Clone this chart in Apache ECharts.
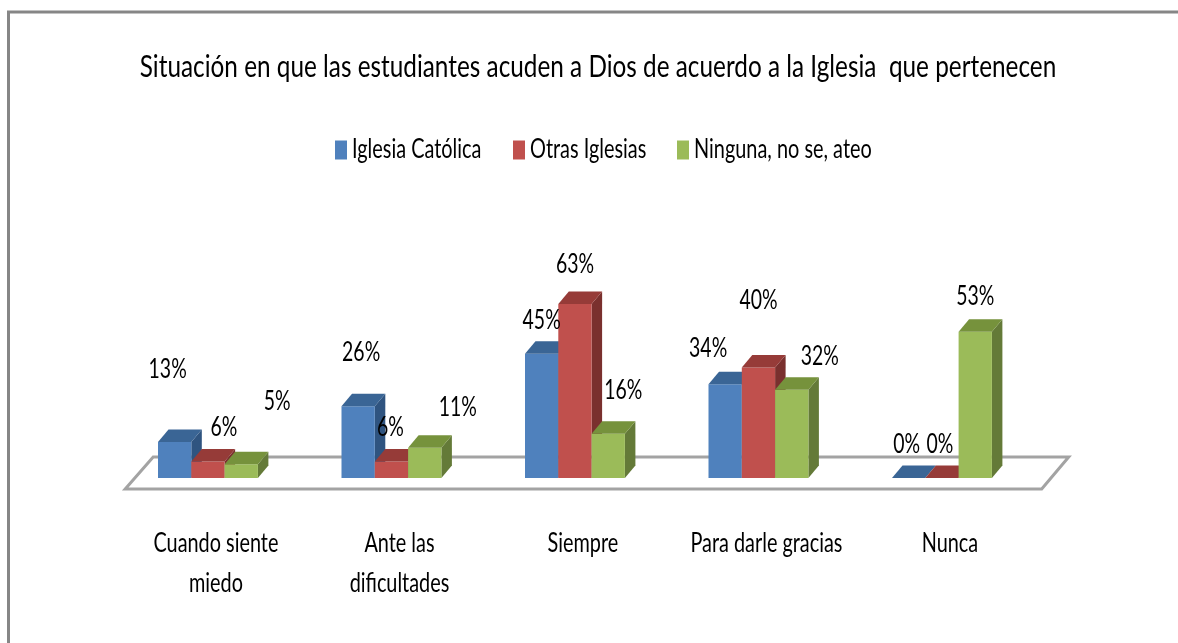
<!DOCTYPE html>
<html><head><meta charset="utf-8">
<style>html,body{margin:0;padding:0;background:#fff}#c{width:1178px;height:643px}</style>
<script src="https://cdn.jsdelivr.net/npm/echarts@6/dist/echarts.min.js"></script>
</head><body><div id="c"></div>
<script>
const titleText = 'Situación en que las estudiantes acuden a Dios de acuerdo a la Iglesia  que pertenecen';
const categories = ['Cuando siente\nmiedo', 'Ante las\ndificultades', 'Siempre', 'Para darle gracias', 'Nunca'];
const seriesNames = ['Iglesia Católica', 'Otras Iglesias', 'Ninguna, no se, ateo'];
const catolica = [13, 26, 45, 34, 0];
const otras = [6, 6, 63, 40, 0];
const ninguna = [5, 11, 16, 32, 53];

const FONT = 'Lato,"Liberation Sans",sans-serif';
const faces = [
  {front:'#4F81BD', top:'#3A6595', side:'#2F5480'},
  {front:'#C0504D', top:'#963B38', side:'#7A302E'},
  {front:'#9BBB59', top:'#76923C', side:'#647A38'}
];
const labelOffsets = [
  [[-7,-73],[3,-54],[0,-34],[-17,-36],[-2,-34]],
  [[16,-34],[-1,-34],[0,-40],[0,-67],[-2,-34]],
  [[36,-63],[33,-40],[15,-44],[28,-33],[0,-35]]
];
const DX = 10.5, DY = 12.5, BARW = 33.3;
const SQUEEZE = {title:0.811, legend:0.765, axis:0.735, value:0.72};

function barRenderer(si){
  return function(params, api){
    const c = api.value(0), v = api.value(1);
    const base = api.coord([c, 0]), top = api.coord([c, v]);
    const x0 = base[0] + (si - 1.5) * BARW, x1 = x0 + BARW, yb = base[1], yt = top[1];
    const f = faces[si];
    const kids = [];
    if (v > 0) {
      kids.push({type:'polygon', shape:{points:[[x1,yb],[x1+DX,yb-DY],[x1+DX,yt-DY],[x1,yt]]}, style:{fill:f.side}});
      kids.push({type:'rect', shape:{x:x0,y:yt,width:BARW,height:yb-yt}, style:{fill:f.front}});
    }
    kids.push({type:'polygon', shape:{points:[[x0,yt],[x0+DX,yt-DY],[x1+DX,yt-DY],[x1,yt]]}, style:{fill:f.top}});
    const o = labelOffsets[si][c];
    kids.push({type:'text', z2:100, x: x0 + BARW/2 + o[0], y: yt + o[1], scaleX:SQUEEZE.value, style:{
      text: v + '%', x:0, y:0, align:'center', verticalAlign:'middle', fill:'#000', font:'27px ' + FONT
    }});
    return {type:'group', children:kids};
  };
}
function floorRenderer(params, api){
  const rect = params.coordSys;
  const y = api.coord([0,0])[1], l = rect.x, r = rect.x + rect.width;
  return {type:'polygon', shape:{points:[[l+9,y+11],[l+37,y-21],[r+35,y-21],[r+8,y+11]]},
    style:{fill:'#fff', stroke:'#a3a3a3', lineWidth:3}};
}
const values = [catolica, otras, ninguna];
const legendLeft = [330, 508, 672];
const option = {
  backgroundColor:'#fff',
  animation:false,
  title:{text:titleText, left:'center', top:47, textStyle:{fontFamily:FONT, fontSize:30, fontWeight:'normal', color:'#000'}},
  legend:seriesNames.map((n,i)=>({data:[n], left:legendLeft[i], top:132, icon:'rect', itemWidth:12, itemHeight:19,
    textStyle:{fontFamily:FONT, fontSize:26, color:'#000'}})),
  grid:{left:116.2, width:917.5, top:284.8, height:193.2},
  xAxis:{type:'category', data:categories, axisLine:{show:false}, axisTick:{show:false},
    axisLabel:{interval:0, margin:45, lineHeight:40, fontFamily:FONT, fontSize:27, color:'#000'}},
  yAxis:{type:'value', min:0, max:70, show:false},
  series:[
    {type:'custom', name:'piso', z:1, silent:true, data:[[0,0]], encode:{x:0,y:1}, renderItem:floorRenderer},
    ...seriesNames.map((n,si)=>({type:'custom', name:n, z:2, itemStyle:{color:faces[si].front},
      encode:{x:0,y:1}, data:values[si].map((v,i)=>[i,v]), renderItem:barRenderer(si)}))
  ],
  graphic:[
    {type:'polyline', silent:true, shape:{points:[[8.5,643],[8.5,12],[1178,12]]}, style:{fill:'none', stroke:'#868686', lineWidth:3}}
  ]
};
const chart = echarts.init(document.getElementById('c'),null,{renderer:'canvas'});
chart.setOption(option);
// The reference's type is tall and condensed: squeeze the library's own text horizontally.
chart.getZr().storage.traverse(function(el){
  const t = el.style && el.style.text;
  if (typeof t !== 'string' || t.slice(-1) === '%') return;
  const r = el.getBoundingRect();
  if (t === titleText) { el.originX = r.x + r.width/2; el.scaleX = SQUEEZE.title; el.x += 9; }
  else if (seriesNames.indexOf(t) >= 0) { el.originX = r.x; el.scaleX = SQUEEZE.legend; }
  else if (categories.indexOf(t) >= 0) { el.originX = r.x + r.width/2; el.scaleX = SQUEEZE.axis; el.x += 8; }
  else return;
  el.markRedraw();
});
</script></body></html>
